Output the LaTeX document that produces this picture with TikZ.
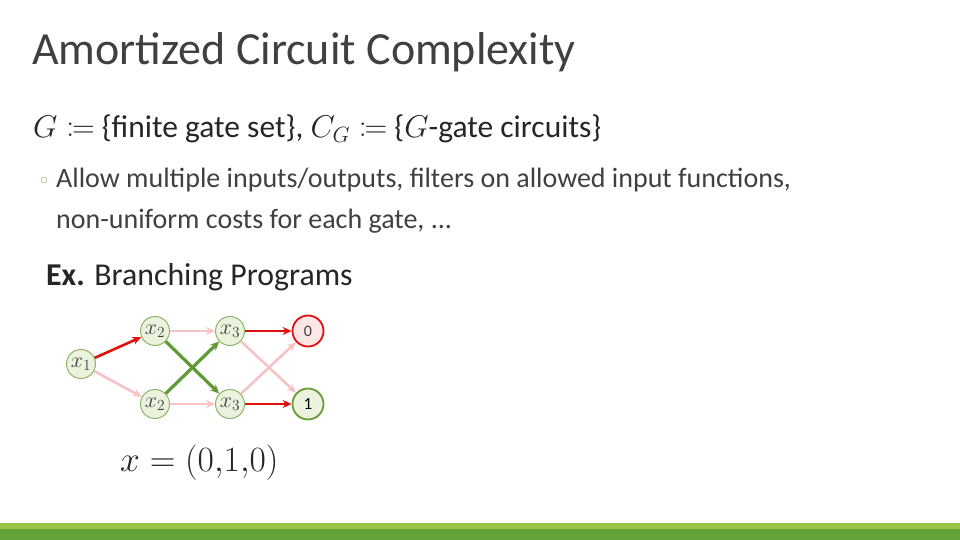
\RequirePackage{fix-cm}
\documentclass[tikz,border=0pt]{standalone}
\usepackage{fontspec}
\usepackage{mathtools}
\setmainfont{Carlito}
\newfontfamily\titlefont{Carlito}
\usetikzlibrary{arrows.meta}
\definecolor{barlight}{HTML}{9DC544}
\definecolor{bardark}{HTML}{62A337}
\definecolor{nodefill}{HTML}{EBF2DE}
\definecolor{nodeedge}{HTML}{8FB46A}
\definecolor{rededge}{HTML}{E01010}
\definecolor{pinkedge}{HTML}{F5C4C4}
\definecolor{greenedge}{HTML}{5E9A35}
\definecolor{zerofill}{HTML}{FDE6E6}
\definecolor{onefill}{HTML}{EBF2DE}
\definecolor{oneedge}{HTML}{6A9A3A}
\definecolor{bodytext}{HTML}{404040}
\tikzset{
  vnode/.style={circle, draw=nodeedge, fill=nodefill, line width=1pt, minimum size=29pt, inner sep=0pt, font=\fontsize{22}{22}\selectfont\color{bodytext}},
  zeronode/.style={circle, draw=rededge, fill=zerofill, line width=1.8pt, minimum size=31pt, inner sep=0pt, font=\fontsize{16}{16}\selectfont\color{bodytext}},
  onenode/.style={circle, draw=oneedge, fill=onefill, line width=1.8pt, minimum size=31pt, inner sep=0pt, font=\fontsize{17}{17}\selectfont\color{black}},
  rededge/.style={draw=rededge, line width=2.6pt, -{Stealth[length=9pt,width=8pt]}},
  pinkarrow/.style={draw=pinkedge, line width=2.6pt, -{Stealth[length=9pt,width=8pt]}},
  greenarrow/.style={draw=greenedge, line width=3.2pt, -{Stealth[length=9pt,width=8pt]}},
  txt/.style={anchor=base west, inner sep=0pt}
}
\begin{document}
\begin{tikzpicture}[x=1pt,y=-1pt]
\useasboundingbox (0,0) rectangle (960,540);
\fill[white] (0,0) rectangle (960,540);
% bottom bars
\fill[barlight] (0,523) rectangle (960,529);
\fill[bardark] (0,529) rectangle (960,540);
% title
\node[txt, text=bodytext] (title) at (32,65) {\fontsize{46}{46}\selectfont\titlefont Amortized Circuit Complexity};
% main line
\node[txt, text=black!85] (line1) at (33,138) {\fontsize{31.5}{31.5}\selectfont $G \coloneqq$ \{finite gate set\}, $C_G \coloneqq$ \{$G$-gate circuits\}};
\node[txt, text=nodeedge] (bullet) at (40,184) {\fontsize{16}{16}\selectfont $\circ$};
\node[txt, text=bodytext] (line2) at (56,187) {\fontsize{28}{28}\selectfont Allow multiple inputs/outputs, filters on allowed input functions,};
\node[txt, text=bodytext] (line3) at (56,228) {\fontsize{28}{28}\selectfont non-uniform costs for each gate, ...};
\node[txt, text=black!85] (ex) at (46,285) {\fontsize{31.8}{31.8}\selectfont \textbf{Ex.} Branching Programs};
% nodes
\node[vnode] (x1) at (81,364) {$x_1$};
\node[vnode] (x2a) at (155,331) {$x_2$};
\node[vnode] (x2b) at (155,404) {$x_2$};
\node[vnode] (x3a) at (230,331) {$x_3$};
\node[vnode] (x3b) at (230,404) {$x_3$};
\node[zeronode] (o0) at (308,331) {0};
\node[onenode] (o1) at (308,404) {1};
% edges (pink first)
\draw[pinkarrow] (x1) -- (x2b);
\draw[pinkarrow] (x2a) -- (x3a);
\draw[pinkarrow] (x2b) -- (x3b);
\draw[pinkarrow] (x3a) -- (o1);
\draw[pinkarrow] (x3b) -- (o0);
\draw[greenarrow] (x2a) -- (x3b);
\draw[greenarrow] (x2b) -- (x3a);
\draw[rededge] (x1) -- (x2a);
\draw[rededge] (x3a) -- (o0);
\draw[rededge] (x3b) -- (o1);
\node[txt, text=black!85] (xeq) at (120,471) {\fontsize{35.5}{35.5}\selectfont $x = (0{,}1{,}0)$};
\end{tikzpicture}
\end{document}
